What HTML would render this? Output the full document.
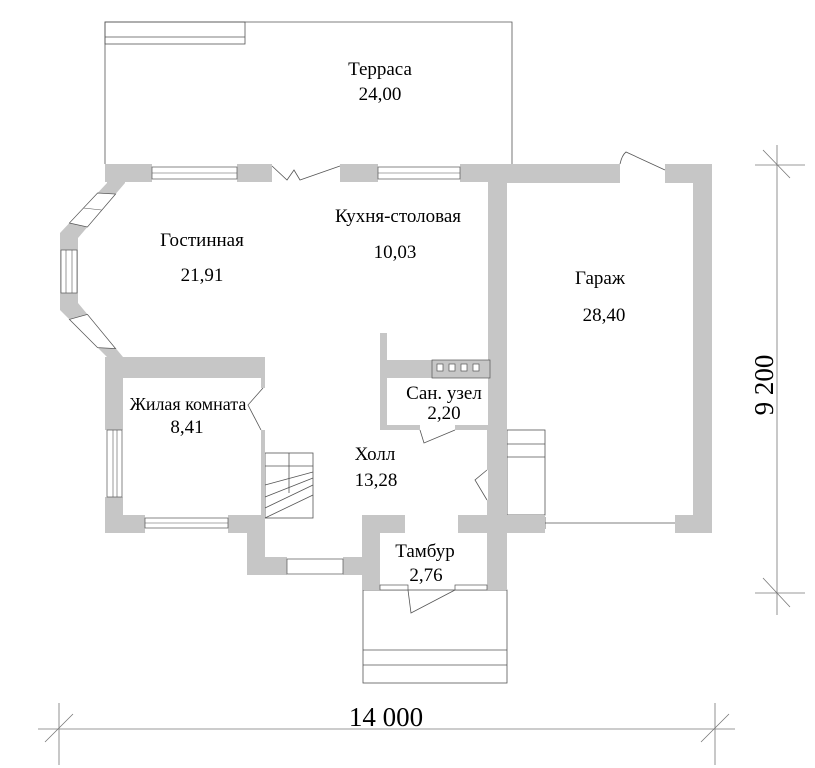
<!DOCTYPE html>
<html><head><meta charset="utf-8"><style>
html,body{margin:0;padding:0;background:#fff;}
svg{display:block;}
text{font-family:"Liberation Serif",serif;fill:#000;}
</style></head><body>
<svg width="815" height="768" viewBox="0 0 815 768" xmlns="http://www.w3.org/2000/svg">
<g fill="none" stroke="#555" stroke-width="0.8">
<polyline points="105,164 105,22 512,22 512,164"/>
<rect x="105" y="22" width="140" height="22"/>
<line x1="105" y1="37" x2="245" y2="37"/>
<rect x="363" y="590" width="144" height="93"/>
<line x1="363" y1="650" x2="507" y2="650"/>
<line x1="363" y1="665" x2="507" y2="665"/>
<rect x="265" y="453" width="48" height="65"/>
<line x1="289" y1="453" x2="289" y2="493"/>
<line x1="265" y1="466" x2="313" y2="466"/>
<line x1="265" y1="485" x2="313" y2="472"/>
<line x1="265" y1="497" x2="313" y2="478"/>
<line x1="265" y1="508" x2="313" y2="485"/>
<line x1="265" y1="518" x2="313" y2="495"/>
<rect x="507" y="430" width="38" height="85"/>
<line x1="507" y1="444" x2="545" y2="444"/>
<line x1="507" y1="457" x2="545" y2="457"/>
<line x1="545" y1="523" x2="677" y2="523"/>
<line x1="545" y1="517" x2="545" y2="529"/>
<line x1="677" y1="517" x2="677" y2="529"/>
<polyline points="272,166 287,180 294,170 300,180 340,166"/>
<path d="M620,164 Q622,155 626,152 L665,170"/>
<path d="M263,388 L248,405 L261,430"/>
<path d="M420,430 L424,443 L455,430"/>
<path d="M487,470 L475,480 L487,500"/>
<path d="M408,590 L411,613 L455,590"/>
</g>
<g fill="none" stroke="#777" stroke-width="0.8">
<line x1="38" y1="729" x2="735" y2="729"/>
<line x1="59" y1="703" x2="59" y2="765"/>
<line x1="715" y1="703" x2="715" y2="765"/>
<line x1="45" y1="742" x2="73" y2="714"/>
<line x1="701" y1="742" x2="729" y2="714"/>
<line x1="777" y1="145" x2="777" y2="615"/>
<line x1="755" y1="165" x2="805" y2="165"/>
<line x1="755" y1="593" x2="805" y2="593"/>
<line x1="763" y1="150" x2="790" y2="178"/>
<line x1="763" y1="578" x2="790" y2="607"/>
</g>
<g fill="#c6c6c6" stroke="none">
<rect x="105" y="164" width="47" height="18"/>
<rect x="237" y="164" width="35" height="18"/>
<rect x="340" y="164" width="38" height="18"/>
<rect x="460" y="164" width="47" height="18"/>
<rect x="488" y="164" width="19" height="369"/>
<rect x="488" y="164" width="132" height="19"/>
<rect x="665" y="164" width="47" height="19"/>
<rect x="693" y="164" width="19" height="369"/>
<rect x="675" y="515" width="37" height="18"/>
<rect x="488" y="515" width="57" height="18"/>
<polygon points="107,164 125,164 125,183 78,238 78,303 123,357 107,357 60,310 60,233 107,183"/>
<rect x="105" y="357" width="160" height="21"/>
<rect x="105" y="357" width="18" height="73"/>
<rect x="105" y="497" width="18" height="36"/>
<rect x="105" y="515" width="40" height="18"/>
<rect x="228" y="515" width="37" height="18"/>
<rect x="247" y="515" width="18" height="60"/>
<rect x="247" y="557" width="40" height="18"/>
<rect x="343" y="557" width="37" height="18"/>
<rect x="362" y="515" width="18" height="75"/>
<rect x="362" y="515" width="43" height="18"/>
<rect x="458" y="515" width="49" height="18"/>
<rect x="487" y="515" width="20" height="75"/>
<rect x="261" y="378" width="4" height="10"/>
<rect x="261" y="430" width="4" height="85"/>
<rect x="380" y="333" width="7" height="97"/>
<rect x="380" y="360" width="110" height="18"/>
<rect x="380" y="425" width="40" height="5"/>
<rect x="455" y="425" width="35" height="5"/>
<rect x="487" y="430" width="20" height="40"/>
<rect x="487" y="500" width="20" height="15"/>
</g>
<g fill="#fff" stroke="#555" stroke-width="0.7">
<rect x="152" y="167" width="85" height="12"/>
<rect x="378" y="167" width="82" height="12"/>
<polygon points="97.6,193 115.6,194 87.4,227 69.4,223"/>
<rect x="61" y="250" width="16" height="43"/>
<polygon points="69.4,319.4 87.4,314.4 115.6,348.6 97.6,347.6"/>
<rect x="107" y="430" width="15" height="67"/>
<rect x="145" y="518" width="83" height="10"/>
<rect x="287" y="559" width="56" height="15"/>
<rect x="380" y="585" width="28" height="5"/>
<rect x="455" y="585" width="32" height="5"/>
<rect x="432" y="360" width="58" height="18" fill="#c6c6c6"/>
<rect x="437" y="364" width="6" height="7"/><rect x="449" y="364" width="6" height="7"/><rect x="461" y="364" width="6" height="7"/><rect x="473" y="364" width="6" height="7"/>
</g>
<g fill="none" stroke="#555" stroke-width="0.6">
<line x1="83.5" y1="208" x2="101.5" y2="210"/>
<line x1="66" y1="250" x2="66" y2="293"/><line x1="72" y1="250" x2="72" y2="293"/>
<line x1="113" y1="430" x2="113" y2="497"/><line x1="117" y1="430" x2="117" y2="497"/>
<line x1="145" y1="523" x2="228" y2="523"/>
<line x1="152" y1="173" x2="237" y2="173"/>
<line x1="378" y1="173" x2="460" y2="173"/>
</g>
<g font-size="19" text-anchor="middle">
<text x="380" y="75">Терраса</text>
<text x="380" y="100">24,00</text>
<text x="202" y="246">Гостинная</text>
<text x="202" y="281">21,91</text>
<text x="398" y="222">Кухня-столовая</text>
<text x="395" y="258">10,03</text>
<text x="600" y="284">Гараж</text>
<text x="604" y="321">28,40</text>
<text x="188" y="410" font-size="18">Жилая комната</text>
<text x="187" y="433">8,41</text>
<text x="444" y="399">Сан. узел</text>
<text x="444" y="419">2,20</text>
<text x="375" y="460">Холл</text>
<text x="376" y="486">13,28</text>
<text x="425" y="557">Тамбур</text>
<text x="426" y="581">2,76</text>
<text x="386" y="726" font-size="27">14 000</text>
<text x="0" y="0" font-size="27" transform="translate(773,385) rotate(-90)">9 200</text>
</g>
</svg>
</body></html>
